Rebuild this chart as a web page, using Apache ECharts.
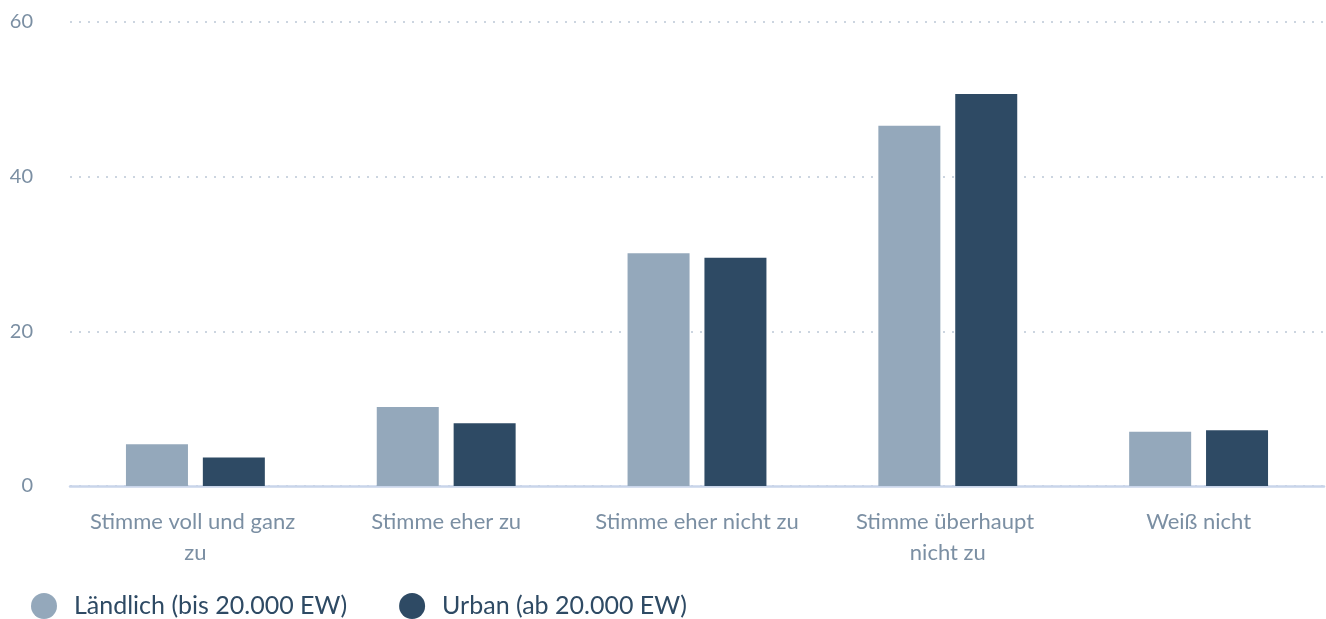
<!DOCTYPE html>
<html>
<head>
<meta charset="utf-8">
<script src="https://cdn.jsdelivr.net/npm/echarts@6/dist/echarts.min.js"></script>
<style>
  html, body { margin: 0; padding: 0; background: #fff; }
  #chart { width: 1326px; height: 619px; }
</style>
</head>
<body>
<div id="chart"></div>
<script>
var categories = ["Stimme voll und ganz zu", "Stimme eher zu", "Stimme eher nicht zu", "Stimme überhaupt nicht zu", "Weiß nicht"];
var laendlich = [5.4, 10.2, 30.1, 46.6, 7.0];
var urban = [3.7, 8.1, 29.5, 50.7, 7.2];
var seriesNames = ["Ländlich (bis 20.000 EW)", "Urban (ab 20.000 EW)"];

var fontName = "'Source Sans Pro', Lato, 'Noto Sans', sans-serif";
var chart = echarts.init(document.getElementById('chart'));
chart.setOption({
    animation: false,
    textStyle: { fontFamily: fontName },
    color: ['#94a8bb', '#2e4a64'],
    grid: { left: 70, right: 2, top: 22, bottom: 133 },
    legend: {
        left: 26,
        bottom: -5,
        itemWidth: 26,
        itemHeight: 26,
        itemGap: 52,
        icon: 'circle',
        textStyle: { fontSize: 25, color: '#2e4a64', fontFamily: fontName, padding: [0, 0, 0, 12] },
        data: seriesNames
    },
    xAxis: {
        type: 'category',
        data: categories,
        axisTick: { show: false },
        axisLine: { lineStyle: { color: '#c9d5ea', width: 2.5 } },
        axisLabel: {
            color: '#7b8fa3',
            fontSize: 22,
            lineHeight: 31,
            margin: 20,
            width: 215,
            overflow: 'break',
            interval: 0
        }
    },
    yAxis: {
        type: 'value',
        min: 0,
        max: 60,
        interval: 20,
        axisLabel: { color: '#7b8fa3', fontSize: 20, margin: 37 },
        splitLine: { lineStyle: { color: '#bcc8d6', type: [2, 7], width: 1.5 } }
    },
    series: [
        { name: seriesNames[0], type: 'bar', data: laendlich, barWidth: 62, barGap: '24%' },
        { name: seriesNames[1], type: 'bar', data: urban, barWidth: 62, barGap: '24%' }
    ]
});
</script>
</body>
</html>
